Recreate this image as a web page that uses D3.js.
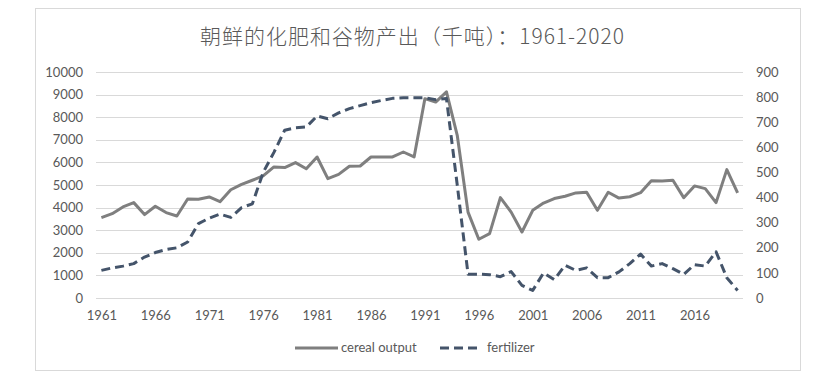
<!DOCTYPE html>
<html><head><meta charset="utf-8">
<script src="https://cdn.jsdelivr.net/npm/d3@7"></script>
<style>
html,body{margin:0;padding:0;background:#fff;}
svg{display:block;}
</style></head>
<body>
<svg id="chart" width="830" height="384"></svg>
<script>
const years = d3.range(1961, 2021);
const cerealOutput = [3560,3730,4030,4220,3690,4060,3780,3630,4380,4370,
  4470,4260,4790,5030,5210,5400,5800,5770,5990,5720,
  6240,5280,5470,5830,5840,6240,6240,6240,6460,6240,
  8820,8670,9120,7200,3800,2600,2850,4440,3800,2920,
  3880,4200,4400,4500,4650,4680,3880,4680,4420,4480,
  4660,5190,5180,5210,4440,4960,4840,4220,5680,4650];
const fertilizer = [110,120,127,137,163,181,193,200,223,296,
  318,334,321,360,375,500,580,668,678,681,
  725,714,737,754,766,778,787,795,797,797,
  797,790,794,450,95,95,93,85,105,50,
  30,100,73,130,110,120,81,81,104,137,
  175,127,137,117,94,133,127,184,81,30];
const leftTicks = d3.range(0, 10001, 1000);
const rightTicks = d3.range(0, 901, 100);
const xTickYears = d3.range(1961, 2020, 5);
const titleText = "朝鲜的化肥和谷物产出（千吨）：1961-2020";
const seriesNames = ["cereal output", "fertilizer"];

const svg = d3.select("#chart");
const font = "Lato, 'Noto Sans', sans-serif";
const txt = "#595959";

svg.append("rect").attr("x", 35.5).attr("y", 8.5).attr("width", 765).attr("height", 362)
  .attr("fill", "#fff").attr("stroke", "#d9d9d9").attr("stroke-width", 1);

const x = d3.scalePoint().domain(years).range([96, 743]).padding(0.5);
const yL = d3.scaleLinear().domain([0, 10000]).range([298, 72]);
const yR = d3.scaleLinear().domain([0, 900]).range([298, 72]);

// gridlines
svg.append("g").selectAll("line").data(leftTicks).join("line")
  .attr("x1", 96).attr("x2", 743)
  .attr("y1", d => Math.round(yL(d)) + 0.5).attr("y2", d => Math.round(yL(d)) + 0.5)
  .attr("stroke", "#d9d9d9").attr("stroke-width", 1);

// left axis
const gl = svg.append("g").attr("transform", "translate(83,0)")
  .call(d3.axisLeft(yL).tickValues(leftTicks).tickSize(0).tickPadding(0).tickFormat(d3.format("d")));
gl.select(".domain").remove();
gl.selectAll("text").attr("font-family", font).attr("font-size", 13).attr("fill", txt);

// right axis
const gr = svg.append("g").attr("transform", "translate(756,0)")
  .call(d3.axisRight(yR).tickValues(rightTicks).tickSize(0).tickPadding(0).tickFormat(d3.format("d")));
gr.select(".domain").remove();
gr.selectAll("text").attr("font-family", font).attr("font-size", 13).attr("fill", txt);

// bottom axis
const gb = svg.append("g").attr("transform", "translate(0,298)")
  .call(d3.axisBottom(x).tickValues(xTickYears).tickSize(0).tickPadding(13));
gb.select(".domain").remove();
gb.selectAll("text").attr("font-family", font).attr("font-size", 13).attr("fill", txt);

// lines
const lineC = d3.line().x((d, i) => x(years[i])).y(d => yL(d));
const lineF = d3.line().x((d, i) => x(years[i])).y(d => yR(d));
svg.append("path").datum(cerealOutput).attr("d", lineC)
  .attr("fill", "none").attr("stroke", "#7f7f7f").attr("stroke-width", 3).attr("stroke-linejoin", "round");
svg.append("path").datum(fertilizer).attr("d", lineF)
  .attr("fill", "none").attr("stroke", "#44546a").attr("stroke-width", 3)
  .attr("stroke-dasharray", "9,5").attr("stroke-linejoin", "round");

// title
svg.append("text").attr("x", 412).attr("y", 44).attr("text-anchor", "middle")
  .attr("font-family", "'Noto Sans CJK SC', 'Noto Sans', sans-serif").attr("font-size", 21)
  .attr("font-weight", 300)
  .attr("textLength", 424).attr("lengthAdjust", "spacing")
  .attr("fill", txt).text(titleText);

// legend
const lg = svg.append("g");
lg.append("line").attr("x1", 295).attr("x2", 338).attr("y1", 348).attr("y2", 348)
  .attr("stroke", "#7f7f7f").attr("stroke-width", 3);
lg.append("text").attr("x", 341).attr("y", 352).attr("font-family", font).attr("font-size", 13)
  .attr("fill", txt).text(seriesNames[0]);
lg.append("line").attr("x1", 440).attr("x2", 478).attr("y1", 348).attr("y2", 348)
  .attr("stroke", "#44546a").attr("stroke-width", 3).attr("stroke-dasharray", "9,5");
lg.append("text").attr("x", 487).attr("y", 352).attr("font-family", font).attr("font-size", 13)
  .attr("fill", txt).text(seriesNames[1]);
</script>
</body></html>
